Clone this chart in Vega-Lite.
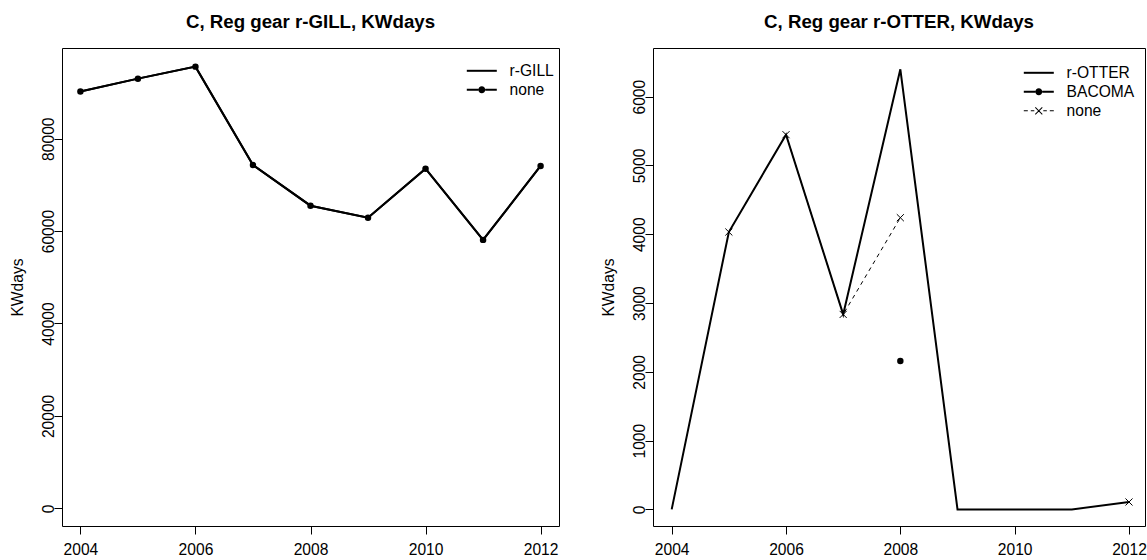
{
  "$schema": "https://vega.github.io/schema/vega-lite/v6.json",
  "background": "white",
  "padding": {"left": 9, "top": 12, "right": 0, "bottom": 0},
  "spacing": 40,
  "resolve": {"scale": {"shape": "independent", "x": "independent", "y": "independent"}, "legend": {"shape": "independent"}},
  "config": {
    "font": "Liberation Sans",
    "view": {"stroke": "black", "strokeWidth": 1},
    "axis": {"domain": false, "grid": false, "ticks": true, "tickColor": "black", "tickSize": 8, "tickWidth": 1, "labelFont": "Liberation Sans", "labelFontSize": 15.6, "labelColor": "black", "labelOverlap": false, "labelFlush": false, "titleFont": "Liberation Sans", "titleFontSize": 15.6, "titleFontWeight": "normal", "titleColor": "black"},
    "axisX": {"labelPadding": 8, "labelBaseline": "top", "labelAngle": 0},
    "axisY": {"labelAngle": 270, "labelAlign": "center", "labelBaseline": "alphabetic", "labelPadding": 1, "titlePadding": 16},
    "title": {"font": "Liberation Sans", "fontSize": 18.7, "fontWeight": "bold", "color": "black", "anchor": "middle", "baseline": "alphabetic", "offset": 16},
    "legend": {"labelFont": "Liberation Sans", "labelFontSize": 15.6, "labelColor": "black", "padding": 0, "symbolSize": 100, "symbolFillColor": "black", "symbolStrokeColor": "black", "symbolStrokeWidth": 0, "symbolOpacity": 1, "labelOffset": 13, "rowPadding": 2}
  },
  "datasets": {
    "gill": [
      {"year": 2004, "series": "r-GILL", "value": 90200},
      {"year": 2005, "series": "r-GILL", "value": 93000},
      {"year": 2006, "series": "r-GILL", "value": 95600},
      {"year": 2007, "series": "r-GILL", "value": 74300},
      {"year": 2008, "series": "r-GILL", "value": 65500},
      {"year": 2009, "series": "r-GILL", "value": 62900},
      {"year": 2010, "series": "r-GILL", "value": 73500},
      {"year": 2011, "series": "r-GILL", "value": 58100},
      {"year": 2012, "series": "r-GILL", "value": 74100},
      {"year": 2004, "series": "none", "value": 90200},
      {"year": 2005, "series": "none", "value": 93000},
      {"year": 2006, "series": "none", "value": 95600},
      {"year": 2007, "series": "none", "value": 74300},
      {"year": 2008, "series": "none", "value": 65500},
      {"year": 2009, "series": "none", "value": 62900},
      {"year": 2010, "series": "none", "value": 73500},
      {"year": 2011, "series": "none", "value": 58100},
      {"year": 2012, "series": "none", "value": 74100}
    ],
    "otter": [
      {"year": 2004, "series": "r-OTTER", "value": 0},
      {"year": 2005, "series": "r-OTTER", "value": 4033},
      {"year": 2006, "series": "r-OTTER", "value": 5448},
      {"year": 2007, "series": "r-OTTER", "value": 2835},
      {"year": 2008, "series": "r-OTTER", "value": 6398},
      {"year": 2009, "series": "r-OTTER", "value": 0},
      {"year": 2010, "series": "r-OTTER", "value": 0},
      {"year": 2011, "series": "r-OTTER", "value": 0},
      {"year": 2012, "series": "r-OTTER", "value": 108},
      {"year": 2008, "series": "BACOMA", "value": 2157},
      {"year": 2004, "series": "none", "value": null},
      {"year": 2005, "series": "none", "value": 4033},
      {"year": 2006, "series": "none", "value": 5448},
      {"year": 2007, "series": "none", "value": 2835},
      {"year": 2008, "series": "none", "value": 4241},
      {"year": 2009, "series": "none", "value": null},
      {"year": 2010, "series": "none", "value": null},
      {"year": 2011, "series": "none", "value": null},
      {"year": 2012, "series": "none", "value": 108}
    ]
  },
  "hconcat": [
    {
      "width": 497,
      "height": 478,
      "title": {"text": "C, Reg gear r-GILL, KWdays"},
      "data": {"name": "gill"},
      "encoding": {
        "x": {"field": "year", "type": "quantitative", "scale": {"domain": [2003.68, 2012.32], "nice": false, "zero": false}, "axis": {"values": [2004, 2006, 2008, 2010, 2012], "format": "d", "title": null}},
        "y": {"field": "value", "type": "quantitative", "scale": {"domain": [-3832, 99632], "nice": false, "zero": false}, "axis": {"values": [0, 20000, 40000, 60000, 80000], "format": "d", "title": "KWdays"}}
      },
      "layer": [
        {"transform": [{"filter": "datum.series === 'r-GILL'"}], "mark": {"type": "line", "color": "black", "strokeWidth": 2}, "encoding": {}},
        {"transform": [{"filter": "datum.series === 'none'"}], "mark": {"type": "line", "color": "black", "strokeWidth": 2}, "encoding": {}},
        {"transform": [{"filter": "datum.series === 'none'"}], "mark": {"type": "point", "shape": "circle", "filled": true, "size": 42, "color": "black", "opacity": 1}},
        {"mark": {"type": "point", "filled": true, "color": "black", "opacity": 0},
         "encoding": {"shape": {"field": "series", "type": "nominal",
           "scale": {"domain": ["r-GILL", "none"], "range": [
             "M-4.4,-0.2L1.6,-0.2L1.6,0.2L-4.4,0.2Z",
             "M-4.4,-0.2L-2.1,-0.2L-2.1,0.2L-4.4,0.2Z M-0.7,-0.2L1.6,-0.2L1.6,0.2L-0.7,0.2Z M-2.1,0A0.7,0.7 0 1,1 -0.7,0A0.7,0.7 0 1,1 -2.1,0Z"]},
           "legend": {"title": null, "orient": "none", "legendX": 419, "legendY": 15, "symbolOpacity": 1, "symbolFillColor": "black"}}}}
      ]
    },
    {
      "width": 492,
      "height": 478,
      "title": {"text": "C, Reg gear r-OTTER, KWdays"},
      "data": {"name": "otter"},
      "encoding": {
        "x": {"field": "year", "type": "quantitative", "scale": {"domain": [2003.673, 2012.28], "nice": false, "zero": false}, "axis": {"values": [2004, 2006, 2008, 2010, 2012], "format": "d", "title": null}},
        "y": {"field": "value", "type": "quantitative", "scale": {"domain": [-241, 6708], "nice": false, "zero": false}, "axis": {"values": [0, 1000, 2000, 3000, 4000, 5000, 6000], "format": "d", "title": "KWdays"}}
      },
      "layer": [
        {"transform": [{"filter": "datum.series === 'r-OTTER'"}], "mark": {"type": "line", "color": "black", "strokeWidth": 2}, "encoding": {}},
        {"transform": [{"filter": "datum.series === 'none'"}], "mark": {"type": "line", "color": "black", "strokeWidth": 1, "strokeDash": [4, 4], "invalid": "break-paths-filter-domains"}, "encoding": {}},
        {"transform": [{"filter": "datum.series === 'none' && datum.value != null"}], "mark": {"type": "point", "shape": "M-1,-1L1,1M-1,1L1,-1", "filled": false, "size": 50, "color": "black", "strokeWidth": 1, "opacity": 1}},
        {"transform": [{"filter": "datum.series === 'BACOMA'"}], "mark": {"type": "point", "shape": "circle", "filled": true, "size": 42, "color": "black", "opacity": 1}},
        {"transform": [{"filter": "datum.value != null"}], "mark": {"type": "point", "filled": true, "color": "black", "opacity": 0},
         "encoding": {
           "shape": {"field": "series", "type": "nominal",
             "scale": {"domain": ["r-OTTER", "BACOMA", "none"], "range": [
               "M-4.4,-0.2L1.6,-0.2L1.6,0.2L-4.4,0.2Z",
               "M-4.4,-0.2L-2.1,-0.2L-2.1,0.2L-4.4,0.2Z M-0.7,-0.2L1.6,-0.2L1.6,0.2L-0.7,0.2Z M-2.1,0A0.7,0.7 0 1,1 -0.7,0A0.7,0.7 0 1,1 -2.1,0Z",
               "M-4.4,-0.1L-3.6,-0.1L-3.6,0.1L-4.4,0.1Z M-3.0,-0.1L-2.3,-0.1L-2.3,0.1L-3.0,0.1Z M-0.5,-0.1L0.2,-0.1L0.2,0.1L-0.5,0.1Z M0.8,-0.1L1.6,-0.1L1.6,0.1L0.8,0.1Z M-2.03,-0.77L-0.63,0.63L-0.77,0.77L-2.17,-0.63Z M-2.17,0.63L-0.77,-0.77L-0.63,-0.63L-2.03,0.77Z"]},
             "legend": {"title": null, "orient": "none", "legendX": 385, "legendY": 17, "symbolOpacity": 1, "symbolFillColor": "black"}}
         }}
      ]
    }
  ]
}
